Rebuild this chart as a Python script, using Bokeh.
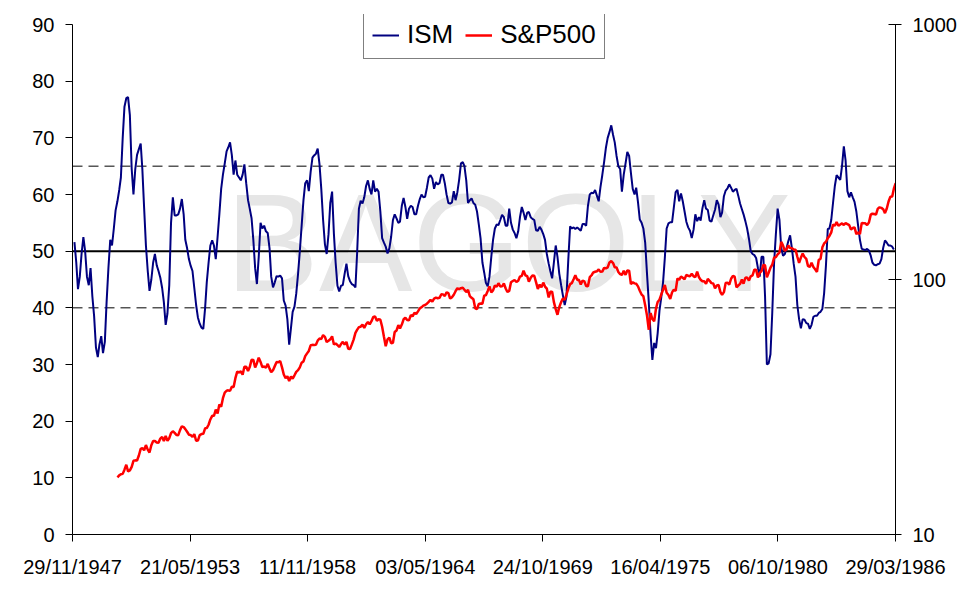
import pandas as pd
from bokeh.plotting import figure
from bokeh.models import (Range1d, LogScale, LogAxis, FixedTicker, DatetimeTickFormatter,
                          PrintfTickFormatter, Span, Label, Legend, LegendItem, ColumnDataSource)
from bokeh.embed import file_html
from bokeh.resources import INLINE

# ---------------- data ----------------
x_tick_labels = ["29/11/1947", "21/05/1953", "11/11/1958", "03/05/1964",
                 "24/10/1969", "16/04/1975", "06/10/1980", "29/03/1986"]
left_ticks = [0, 10, 20, 30, 40, 50, 60, 70, 80, 90]
right_ticks = [10, 100, 1000]
band_levels = [40, 65]
mid_level = 50
watermark = "BAGOLY"

ism_start = "1948-01-01"   # monthly ISM readings
ism_values = [
    51.6, 48, 43.3, 45.5, 49.5, 52.5, 50, 45.5, 44, 47, 42, 38.5,            # 1948
    33, 31.3, 33.5, 35, 32, 34, 41, 47, 52, 51, 54, 57.2,                    # 1949
    58.8, 60.8, 63, 70, 75.5, 77, 77.2, 74, 64.5, 60, 64.5, 67,              # 1950
    68, 69, 64.5, 57.5, 51, 46.5, 43, 45, 48, 49.5, 47.5, 46.5,              # 1951
    45.3, 43.5, 41, 37, 39, 44, 55, 59.5, 56.3, 56.3, 56.5, 57.5,            # 1952
    59.2, 56.5, 52, 50.5, 48.6, 47.4, 46.5, 43.5, 40.5, 38.3, 37.2, 36.5,    # 1953
    36.3, 40, 44.5, 48, 51, 51.9, 51, 48.6, 52.5, 56.5, 61, 63.5,            # 1954
    65.5, 67.6, 68.3, 69.2, 67, 63.5, 66, 63.5, 63, 62.5, 63.5, 65.3,        # 1955
    62, 59, 57.5, 55.8, 52, 47, 44.2, 49, 55, 54, 54.5, 53.5,                # 1956
    53.2, 50.5, 45.5, 43.6, 44.5, 45.6, 45.5, 45.7, 45.2, 41.3, 40.4, 38,    # 1957
    33.5, 36.5, 39.3, 40.2, 42.5, 46, 50, 54.5, 59, 62, 62.5, 60.6,          # 1958
    64, 66.5, 66.9, 67.2, 68.1, 65.3, 61, 55.5, 51.2, 49.5, 53, 58.5,        # 1959
    60.5, 53, 48, 43.9, 42.9, 43.9, 44, 46, 47.8, 45.6, 44.7, 44.2,          # 1960
    44, 43.6, 49.5, 57.5, 58.9, 58.4, 59.5, 61.5, 62.5, 61, 60, 62.5,        # 1961
    60.5, 61, 60.5, 57, 52.3, 51.5, 50.8, 49.6, 50.5, 52.5, 55.5, 56.5,      # 1962
    55.8, 55, 55.2, 58, 59.4, 57.8, 55.7, 57.5, 58, 57.8, 56.5, 56.5,        # 1963
    58, 59.2, 60, 59.5, 59.6, 61.2, 63, 63.4, 62.8, 61, 62.2, 61.8,          # 1964
    62, 63.5, 63.5, 62, 60, 58.5, 58.4, 58.6, 60.6, 59, 60.4, 62.6,          # 1965
    65.5, 65.7, 65, 62.5, 58.5, 59, 59.3, 58.5, 58.2, 57, 54.7, 52.2,        # 1966
    48, 46.2, 44.4, 43.8, 45.5, 49, 52, 54, 54.7, 54.6, 55.5, 56.4,          # 1967
    56, 54.5, 54.5, 57.5, 55, 53.8, 53.2, 52.3, 53.5, 56, 57.8, 56.8,        # 1968
    55.5, 56.8, 56.9, 56, 55.7, 55.5, 53.7, 53.6, 54.3, 53.8, 53, 52,        # 1969
    49.5, 47.8, 46.5, 45.2, 48, 51, 49, 46, 44, 42.2, 40.5, 42,              # 1970
    48.5, 54.4, 54, 54.2, 53.9, 54.2, 53.9, 53.6, 54.8, 54.8, 54.5, 58,      # 1971
    60, 60.3, 60.2, 60.8, 59.8, 58.8, 61.3, 63.4, 65.7, 68.2, 70, 71,        # 1972
    72.2, 70.5, 69.2, 66.8, 65, 64.5, 60.5, 63.5, 65.5, 67.5, 66.8, 63.8,    # 1973
    61, 60, 61.2, 58.6, 55.6, 55, 54, 51.5, 46, 41, 35.3, 30.8,              # 1974
    33.8, 32.9, 35.5, 39.5, 41.8, 44.5, 48.8, 54, 54.9, 55.1, 55.1, 57.7,    # 1975
    60.4, 60.8, 58.8, 60.2, 58.8, 57, 55.2, 54.2, 53.6, 52.3, 53.8, 56.5,    # 1976
    55.3, 56, 55.4, 57.6, 59, 57.5, 57.3, 55.4, 55.2, 56.3, 57.3, 59,        # 1977
    58.2, 56, 56.8, 59.7, 60.7, 61.1, 61.8, 61.2, 60.5, 60.8, 61, 59.8,      # 1978
    58.4, 57.4, 56.5, 55.3, 54, 52.2, 50, 49.5, 49.3, 48.8, 47, 45.5,        # 1979
    49, 49, 42, 30, 30.2, 31.8, 39, 47.8, 53, 57.5, 55.5, 50.6,              # 1980
    49.2, 49.5, 50.5, 51.8, 52.8, 50.5, 47.8, 45.5, 40.5, 38, 36.4, 38,      # 1981
    37.9, 37.3, 37.2, 36.3, 37, 38.4, 38.6, 38.6, 39.1, 39.3, 39.8, 42.6,    # 1982
    47.5, 53.9, 54, 55.5, 58.5, 61.5, 63.4, 63, 62.6, 65, 68.5, 66,          # 1983
    60.6, 59.5, 60.4, 59.5, 58.7, 57, 54.5, 52, 50.4, 50.3, 50.2, 50.4,      # 1984
    50.1, 49.2, 48, 47.6, 47.5, 47.7, 47.8, 48.6, 50.6, 51.9, 51.5, 51,      # 1985
    51, 50.8, 50.3,                                                          # 1986
]

sp500_start = "1950-01-01"   # S&P 500 level at the start of each month
sp500_values = [
    16.76,
    17.05, 17.22, 17.29, 17.96, 18.78, 17.69, 17.84, 18.42, 19.45, 19.53, 19.51, 20.41,
    21.66, 21.80, 21.40, 22.43, 21.52, 20.96, 22.40, 23.28, 23.26, 22.94, 22.88, 23.77,
    24.14, 23.26, 24.37, 23.32, 23.86, 24.96, 25.40, 25.03, 24.54, 24.52, 25.66, 26.57,
    26.38, 25.90, 25.29, 24.62, 24.54, 24.14, 24.75, 23.32, 23.35, 24.54, 24.76, 24.81,
    26.08, 26.15, 26.94, 28.26, 29.19, 29.21, 30.88, 29.83, 32.31, 31.68, 34.24, 35.98,
    36.63, 36.76, 36.58, 37.96, 37.91, 41.03, 43.52, 43.18, 43.67, 42.34, 45.51, 45.48,
    43.82, 45.34, 48.48, 48.38, 45.20, 46.97, 49.39, 47.51, 45.35, 45.58, 45.08, 46.67,
    44.72, 43.26, 44.11, 45.74, 47.43, 47.37, 47.91, 45.22, 42.42, 41.06, 41.72, 39.99,
    41.70, 40.84, 42.10, 43.44, 44.09, 45.24, 47.19, 47.75, 50.06, 51.33, 52.48, 55.21,
    55.42, 55.41, 55.44, 57.59, 58.68, 58.47, 60.51, 59.60, 56.88, 57.52, 58.28, 59.89,
    55.61, 56.12, 55.34, 54.37, 55.83, 56.92, 55.51, 56.96, 53.52, 53.39, 55.54, 58.11,
    61.78, 63.44, 65.06, 65.31, 66.56, 64.64, 66.76, 68.07, 66.73, 68.62, 71.32, 71.55,
    68.84, 69.96, 69.55, 65.24, 59.63, 54.75, 58.23, 59.12, 56.27, 56.52, 62.26, 63.10,
    66.20, 64.29, 66.57, 69.80, 70.80, 69.37, 69.13, 72.50, 71.70, 74.01, 73.23, 75.02,
    77.04, 77.80, 78.98, 79.46, 80.37, 81.69, 83.18, 81.83, 84.18, 84.86, 84.42, 84.75,
    87.56, 87.43, 86.16, 89.11, 88.42, 84.12, 85.25, 87.17, 89.96, 92.42, 91.61, 92.43,
    92.88, 91.22, 89.23, 91.06, 86.13, 84.74, 83.60, 77.10, 76.56, 80.20, 80.45, 80.33,
    86.61, 86.78, 90.20, 94.01, 89.08, 90.64, 94.75, 93.64, 96.71, 93.90, 94.00, 96.47,
    92.24, 89.36, 90.20, 97.59, 98.68, 99.58, 97.74, 98.86, 102.67, 103.41, 108.37, 103.86,
    103.01, 98.13, 101.51, 103.69, 103.46, 97.71, 91.83, 95.51, 93.12, 97.24, 93.81, 92.06,
    85.02, 89.50, 89.63, 81.52, 76.55, 72.72, 78.05, 81.52, 84.21, 83.25, 87.20, 92.15,
    95.88, 96.75, 100.31, 103.95, 99.63, 99.70, 95.58, 99.03, 98.34, 94.23, 93.99, 102.09,
    103.94, 106.57, 107.20, 107.67, 109.53, 107.14, 107.39, 111.09, 110.55, 111.58, 116.67, 118.05,
    116.03, 111.68, 111.52, 106.97, 104.95, 104.26, 108.22, 104.25, 108.43, 108.29, 95.96, 97.55,
    96.57, 96.22, 93.98, 90.31, 87.28, 86.00, 79.31, 72.15, 63.54, 73.90, 69.97, 68.56,
    76.98, 81.59, 83.36, 87.30, 91.15, 95.19, 88.75, 86.88, 83.87, 89.04, 91.24, 90.19,
    100.86, 99.71, 102.77, 101.64, 100.18, 104.28, 103.44, 102.91, 105.24, 102.90, 102.10, 107.46,
    102.03, 99.82, 98.42, 98.44, 96.12, 100.48, 98.85, 96.77, 96.53, 92.34, 94.83, 95.10,
    89.25, 87.04, 89.21, 96.83, 97.24, 95.53, 100.68, 103.29, 102.54, 93.15, 94.70, 96.11,
    99.93, 96.28, 101.59, 101.76, 99.08, 102.91, 103.81, 109.32, 109.32, 101.82, 106.16, 107.94,
    114.16, 113.66, 102.09, 106.29, 111.24, 114.24, 121.67, 122.38, 125.46, 127.47, 140.52, 135.76,
    129.55, 131.27, 136.00, 132.81, 132.59, 131.21, 130.92, 122.79, 116.18, 121.89, 126.35, 122.55,
    120.40, 113.11, 111.96, 116.44, 111.88, 109.61, 107.09, 119.51, 120.42, 133.71, 138.54, 140.64,
    145.30, 148.06, 152.96, 164.42, 162.39, 168.11, 162.56, 164.40, 166.07, 163.55, 166.40, 164.93,
    163.41, 157.06, 159.18, 160.05, 150.55, 153.18, 150.66, 166.68, 166.10, 166.09, 163.58, 167.24,
    179.63, 181.18, 180.66, 179.83, 189.55, 191.85, 190.92, 188.63, 182.08, 189.82, 202.17, 211.28,
    211.78, 226.92, 238.90,
]

# ---------------- build ----------------
FONT = "Liberation Sans"
tick_dates = pd.to_datetime(x_tick_labels, format="%d/%m/%Y")
EPOCH = pd.Timestamp("1970-01-01")
tick_ms = [(d - EPOCH).total_seconds() * 1000.0 for d in tick_dates]

ism_src = ColumnDataSource(dict(
    date=pd.date_range(ism_start, periods=len(ism_values), freq="MS"), v=ism_values))
sp_src = ColumnDataSource(dict(
    date=pd.date_range(sp500_start, periods=len(sp500_values), freq="MS"), v=sp500_values))

# frame: 510 px for the 0..90 span, plus 10 px headroom above for the legend box
PLOT_H, HEAD = 510, 10
lin_top = left_ticks[-1] + HEAD * (left_ticks[-1] - left_ticks[0]) / PLOT_H
log_top = right_ticks[-1] * (right_ticks[-1] / right_ticks[0]) ** (HEAD / PLOT_H)

p = figure(frame_width=823, frame_height=PLOT_H + HEAD, x_axis_type="datetime",
           x_range=Range1d(tick_ms[0], tick_ms[-1]),
           y_range=Range1d(left_ticks[0], lin_top),
           output_backend="svg", toolbar_location=None,
           min_border_left=72, min_border_right=73, min_border_top=14, min_border_bottom=58)
p.extra_y_ranges = {"sp": Range1d(right_ticks[0], log_top)}
p.extra_y_scales = {"sp": LogScale()}
p.outline_line_color = None
p.grid.visible = False
p.background_fill_color = "white"
p.border_fill_color = "white"

# x axis
xa = p.xaxis[0]
xa.ticker = FixedTicker(ticks=tick_ms)
fmt = "%d/%m/%Y"
xa.formatter = DatetimeTickFormatter(microseconds=fmt, milliseconds=fmt, seconds=fmt, minsec=fmt,
                                     minutes=fmt, hourmin=fmt, hours=fmt, days=fmt,
                                     months=fmt, years=fmt)
# left axis
ya = p.yaxis[0]
ya.ticker = FixedTicker(ticks=left_ticks)
ya.bounds = (left_ticks[0], left_ticks[-1])

# right log axis
ra = LogAxis(y_range_name="sp", ticker=FixedTicker(ticks=right_ticks),
             formatter=PrintfTickFormatter(format="%d"),
             bounds=(right_ticks[0], right_ticks[-1]))
p.add_layout(ra, "right")

for ax in (xa, ya, ra):
    ax.axis_line_color = "black"
    ax.axis_line_width = 1
    ax.major_tick_line_color = "black"
    ax.minor_tick_line_color = None
    ax.major_label_text_font = FONT
    ax.major_label_text_font_size = "20px"
    ax.major_label_text_color = "black"
xa.major_tick_out, xa.major_tick_in, xa.major_label_standoff = 7, 0, 14
ya.major_tick_out, ya.major_tick_in, ya.major_label_standoff = 7, 0, 11
ra.major_tick_out, ra.major_tick_in, ra.major_label_standoff = 6, 7, 11

# watermark
wm_x = (pd.Timestamp("1968-03-15") - EPOCH).total_seconds() * 1000.0
p.add_layout(Label(x=wm_x, y=51.5, text=watermark, text_font=FONT, text_font_size="140px",
                   text_color="#e6e6e6", text_align="center", text_baseline="middle",
                   level="underlay"))

# reference lines
for lv in band_levels:
    p.add_layout(Span(location=lv, dimension="width", line_color="black", line_width=1,
                      line_dash="10 6", level="underlay"))
p.add_layout(Span(location=mid_level, dimension="width", line_color="black", line_width=2,
                  level="underlay"))

r_ism = p.line("date", "v", source=ism_src, line_color="#000080", line_width=2)
r_sp = p.line("date", "v", source=sp_src, line_color="#ff0000", line_width=2.5, y_range_name="sp")

legend = Legend(items=[LegendItem(label="ISM", renderers=[r_ism]),
                       LegendItem(label="S&P500", renderers=[r_sp])],
                orientation="horizontal", location=(291, 475))
legend.border_line_color = "black"
legend.border_line_width = 1
legend.background_fill_color = "white"
legend.background_fill_alpha = 1
legend.label_text_font = FONT
legend.label_text_font_size = "26px"
legend.label_text_color = "black"
legend.glyph_width = 27
legend.glyph_height = 20
legend.label_standoff = 8
legend.spacing = 12
legend.padding = 8
legend.margin = 0
p.add_layout(legend)

open("out.html", "w").write(file_html(p, INLINE))
